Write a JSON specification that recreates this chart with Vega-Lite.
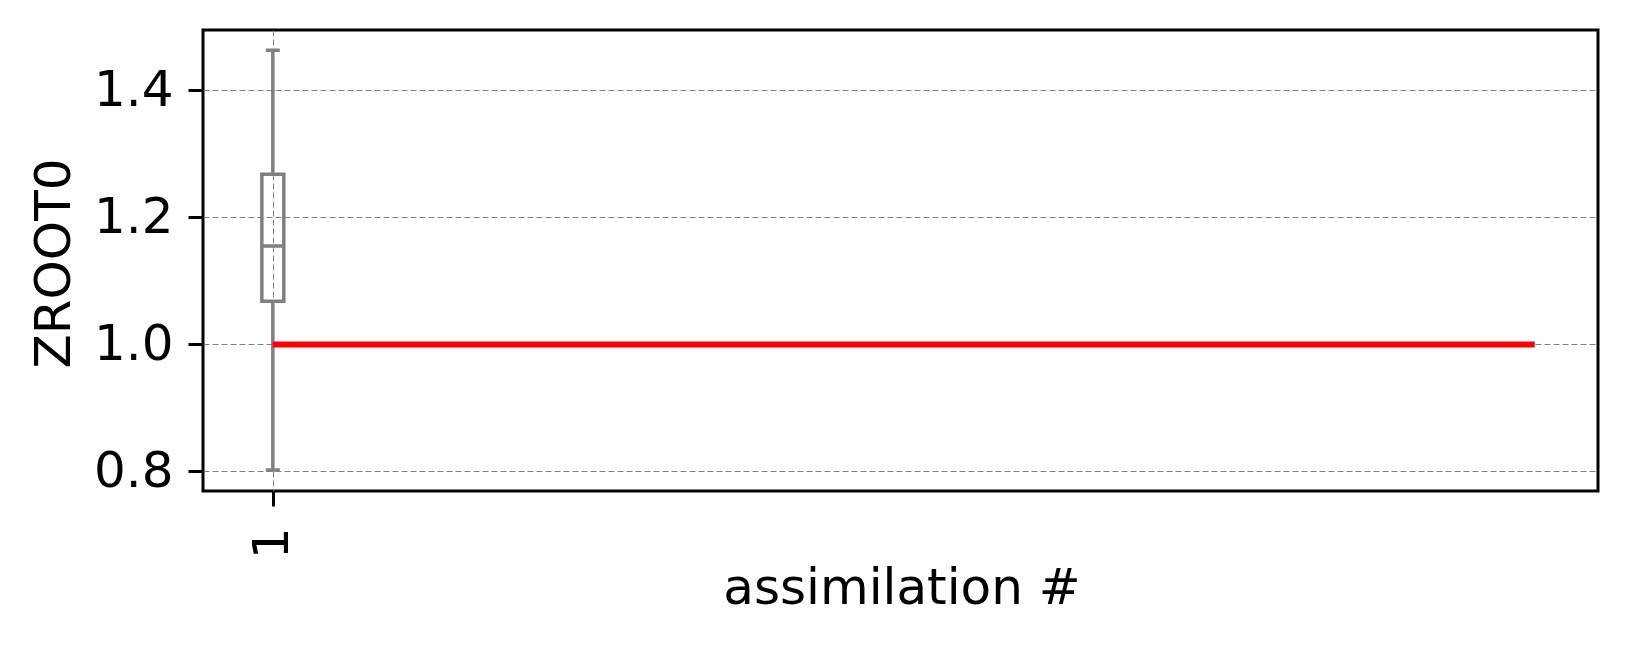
{
  "$schema": "https://vega.github.io/schema/vega-lite/v6.json",
  "autosize": {"type": "none"},
  "padding": {"left": 203, "top": 30, "right": 30, "bottom": 156},
  "width": 1395,
  "height": 461,
  "background": "white",
  "config": {
    "font": "DejaVu Sans",
    "view": {"stroke": "black", "strokeWidth": 3},
    "axis": {
      "labelFont": "DejaVu Sans",
      "titleFont": "DejaVu Sans",
      "labelFontSize": 50,
      "titleFontSize": 50,
      "labelColor": "black",
      "titleColor": "black",
      "titleFontWeight": "normal",
      "tickColor": "black",
      "tickWidth": 3,
      "tickSize": 15,
      "domain": false,
      "grid": true,
      "gridColor": "#808080",
      "gridWidth": 1,
      "gridDash": [6, 3]
    }
  },
  "datasets": {
    "box": [{"assim": 1, "lower": 0.802, "q1": 1.068, "median": 1.155, "q3": 1.268, "upper": 1.4635}],
    "ref": [{"assim": 1, "value": 1.0}, {"assim": 28, "value": 1.0}]
  },
  "layer": [
    {
      "data": {"name": "box"},
      "mark": {"type": "rule", "color": "#808080", "strokeWidth": 3.5},
      "encoding": {
        "x": {"field": "assim", "type": "quantitative", "scale": {"domain": [-0.494, 29.354], "nice": false, "zero": false, "padding": 0},
          "axis": {"values": [1], "labelAngle": -90, "labelAlign": "right", "labelBaseline": "middle", "labelPadding": 21,
            "title": "assimilation #", "titleX": 698.5, "titleY": 112, "titleBaseline": "alphabetic", "titleAlign": "center"}},
        "y": {"field": "lower", "type": "quantitative", "scale": {"domain": [0.769, 1.4953], "nice": false, "zero": false, "padding": 0},
          "axis": {"values": [0.8, 1.0, 1.2, 1.4], "format": ".1f", "labelPadding": 15,
            "title": "ZROOT0", "titleX": -133.5, "titleY": 233, "titleBaseline": "alphabetic", "titleAlign": "center", "titleAngle": -90}},
        "y2": {"field": "q1"}
      }
    },
    {
      "data": {"name": "box"},
      "mark": {"type": "rule", "color": "#808080", "strokeWidth": 3.5},
      "encoding": {
        "x": {"field": "assim", "type": "quantitative"},
        "y": {"field": "q3", "type": "quantitative"},
        "y2": {"field": "upper"}
      }
    },
    {
      "data": {"name": "box"},
      "mark": {"type": "bar", "size": 22, "fill": null, "fillOpacity": 0, "stroke": "#808080", "strokeWidth": 3.5},
      "encoding": {
        "x": {"field": "assim", "type": "quantitative"},
        "y": {"field": "q1", "type": "quantitative"},
        "y2": {"field": "q3"}
      }
    },
    {
      "data": {"name": "box"},
      "mark": {"type": "tick", "orient": "horizontal", "size": 22, "thickness": 3.5, "color": "#808080", "opacity": 1},
      "encoding": {
        "x": {"field": "assim", "type": "quantitative"},
        "y": {"field": "median", "type": "quantitative"}
      }
    },
    {
      "data": {"name": "box"},
      "mark": {"type": "tick", "orient": "horizontal", "size": 14, "thickness": 3.5, "color": "#808080", "opacity": 1},
      "encoding": {
        "x": {"field": "assim", "type": "quantitative"},
        "y": {"field": "lower", "type": "quantitative"}
      }
    },
    {
      "data": {"name": "box"},
      "mark": {"type": "tick", "orient": "horizontal", "size": 14, "thickness": 3.5, "color": "#808080", "opacity": 1},
      "encoding": {
        "x": {"field": "assim", "type": "quantitative"},
        "y": {"field": "upper", "type": "quantitative"}
      }
    },
    {
      "data": {"name": "ref"},
      "mark": {"type": "line", "color": "red", "strokeWidth": 6},
      "encoding": {
        "x": {"field": "assim", "type": "quantitative"},
        "y": {"field": "value", "type": "quantitative"}
      }
    }
  ]
}
